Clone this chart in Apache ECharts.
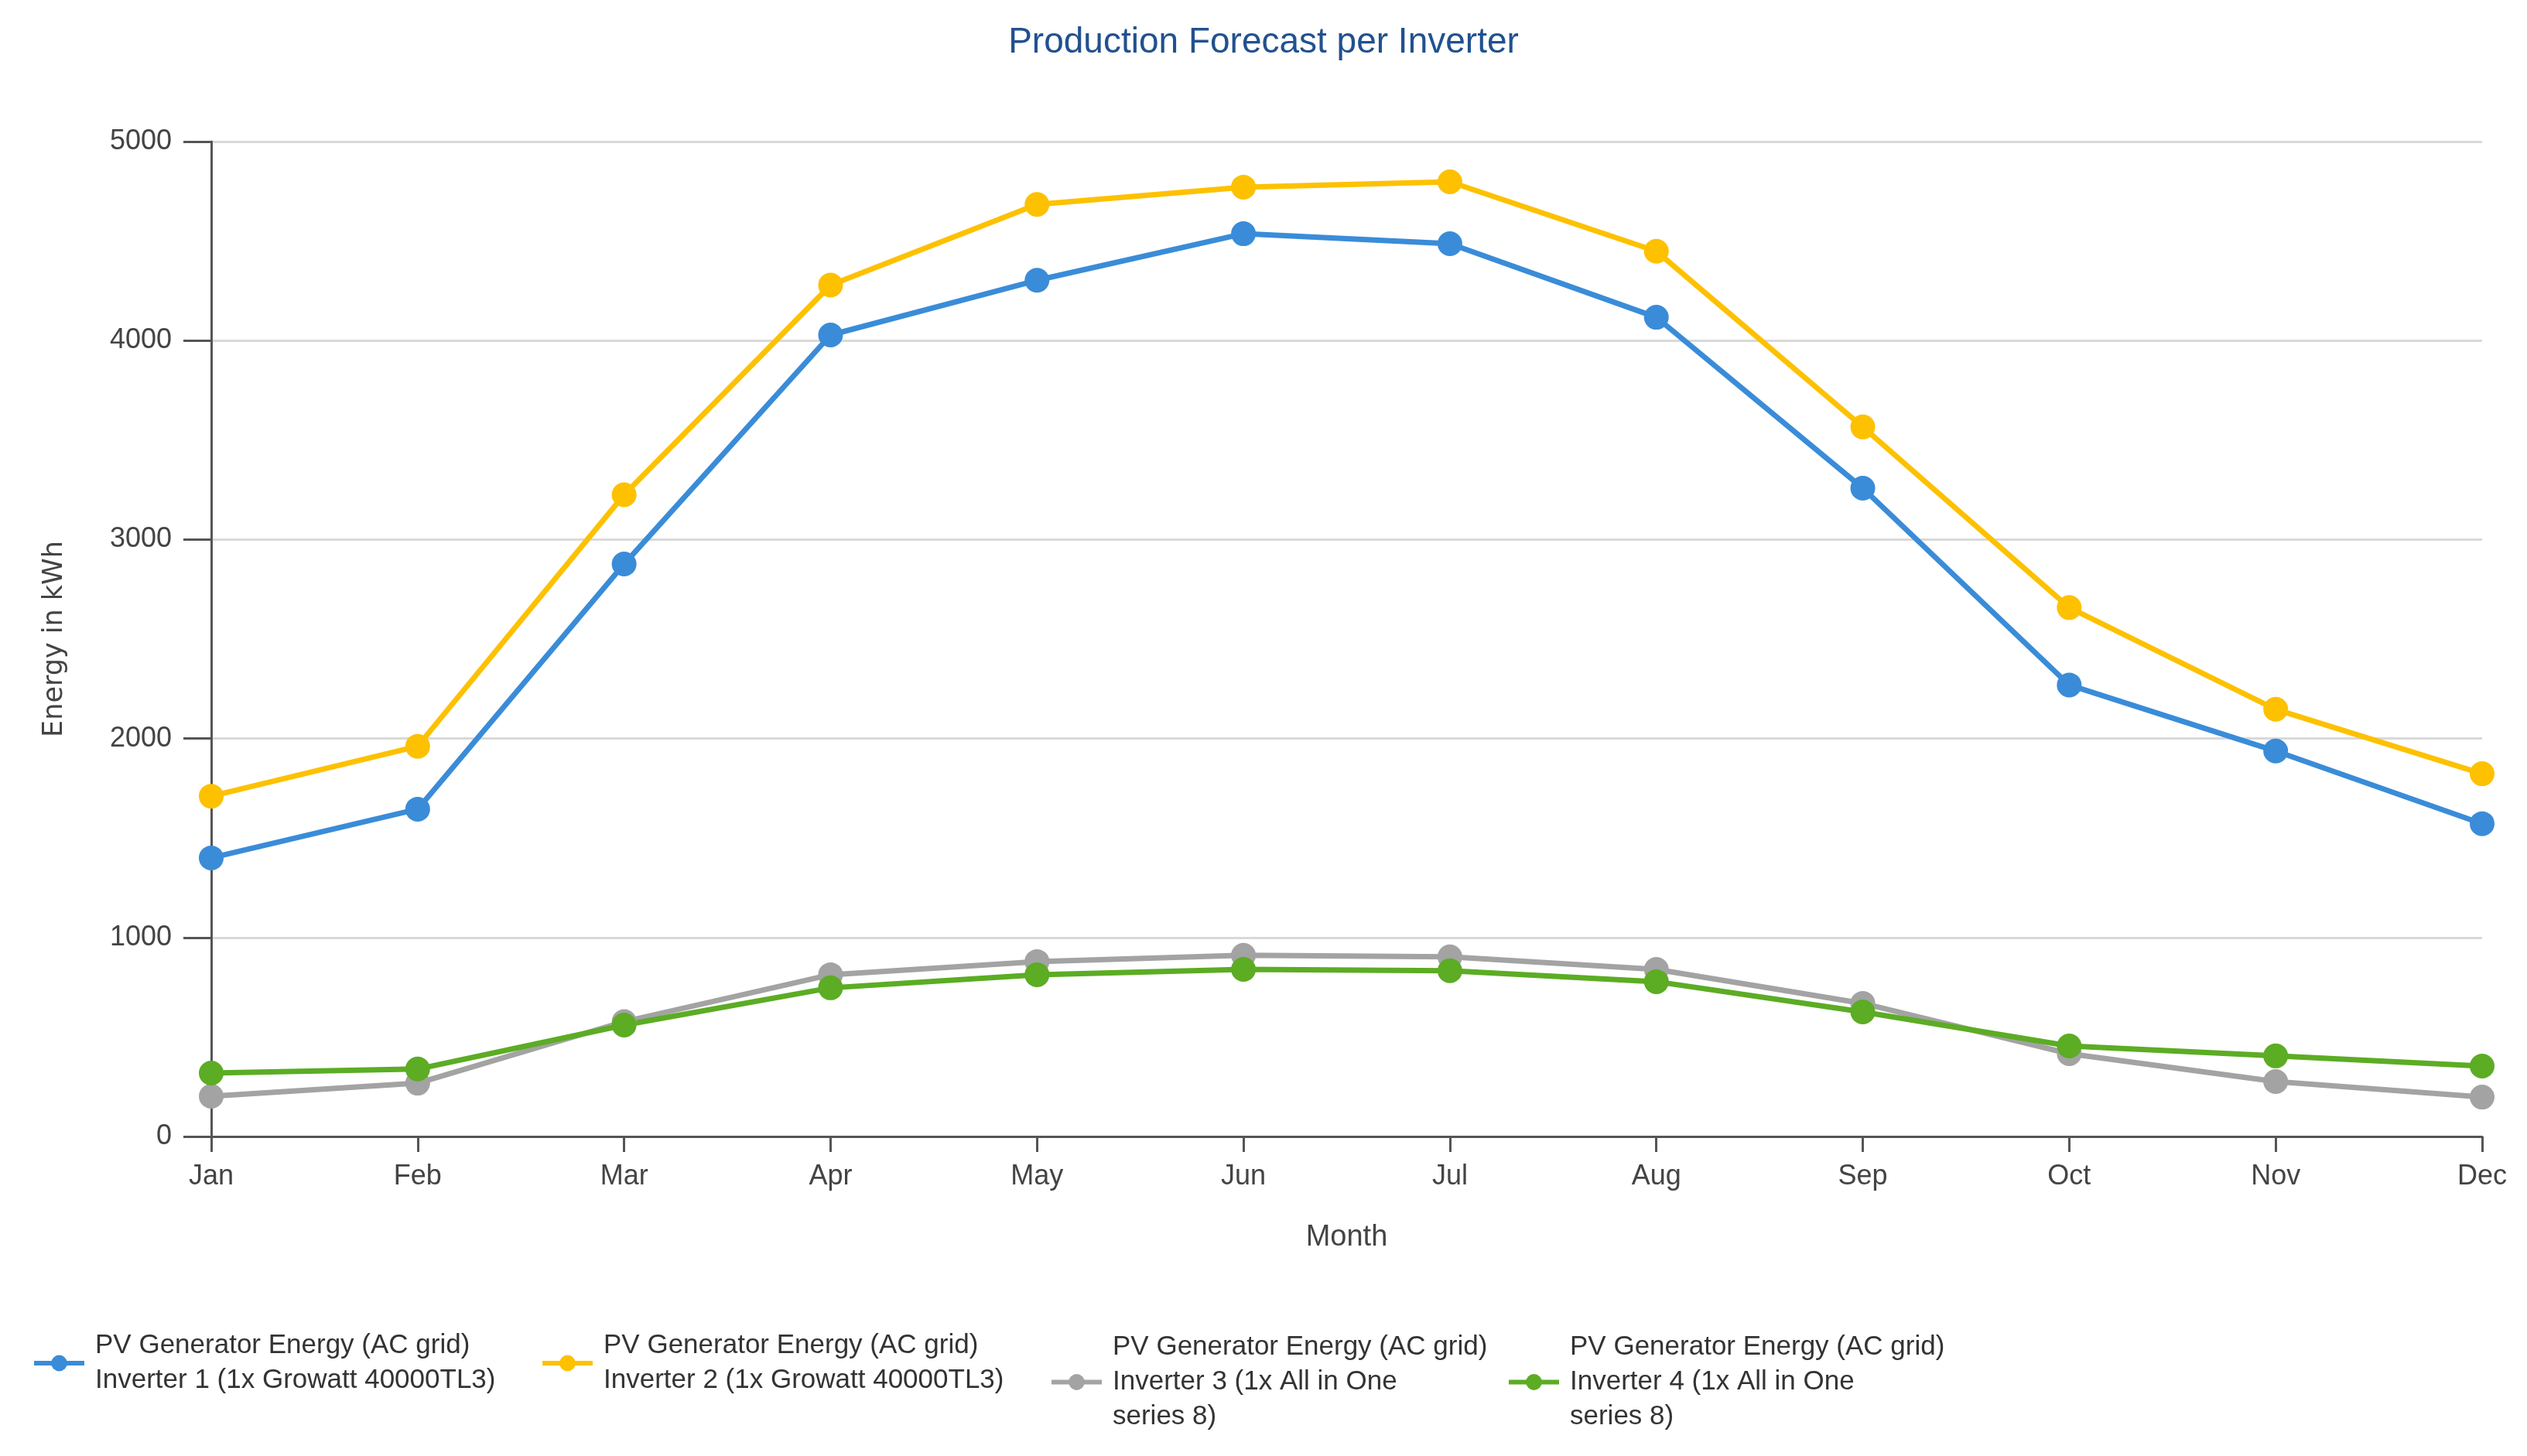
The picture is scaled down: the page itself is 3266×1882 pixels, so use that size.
<!DOCTYPE html>
<html lang="en">
<head>
    <meta charset="UTF-8">
    <title>Production Forecast per Inverter</title>
    <script type="text/javascript" src="https://cdn.jsdelivr.net/npm/echarts@6/dist/echarts.min.js"></script>
    <style>
        html, body { margin: 0; padding: 0; background: #fff; }
        #main { width: 100%; height: 100vh; }
    </style>
</head>
<body>
<div id="main"></div>

<script type="text/javascript">
    // chart data
    var months = ['Jan', 'Feb', 'Mar', 'Apr', 'May', 'Jun', 'Jul', 'Aug', 'Sep', 'Oct', 'Nov', 'Dec'];
    var inverter1 = [1400, 1645, 2877, 4028, 4303, 4537, 4487, 4117, 3258, 2269, 1937, 1572];
    var inverter2 = [1710, 1961, 3225, 4279, 4684, 4771, 4798, 4449, 3566, 2658, 2147, 1823];
    var inverter3 = [202, 268, 577, 813, 879, 911, 903, 840, 669, 416, 276, 198];
    var inverter4 = [319, 339, 560, 747, 813, 840, 833, 778, 626, 455, 405, 354];
    var seriesNames = [
        'PV Generator Energy (AC grid)\nInverter 1 (1x Growatt 40000TL3)',
        'PV Generator Energy (AC grid)\nInverter 2 (1x Growatt 40000TL3)',
        'PV Generator Energy (AC grid)\nInverter 3 (1x All in One\nseries 8)',
        'PV Generator Energy (AC grid)\nInverter 4 (1x All in One\nseries 8)'
    ];
    var colors = ['#3a8cd8', '#fdc100', '#a3a3a3', '#5cac24'];

    var font = 'Liberation Sans, Arial, sans-serif';
    var axisColor = '#555555';
    var textColor = '#444444';

    function makeLegend(idx, left, top) {
        return {
            data: [seriesNames[idx]],
            left: left,
            top: top,
            padding: 0,
            itemWidth: 65,
            itemHeight: 26,
            lineStyle: { width: 6 },
            textStyle: {
                fontFamily: font,
                fontSize: 35,
                lineHeight: 45,
                color: '#333333',
                padding: [0, 0, 0, 9]
            }
        };
    }

    function makeSeries(idx, values) {
        return {
            name: seriesNames[idx],
            type: 'line',
            data: values,
            symbol: 'circle',
            symbolSize: 32,
            color: colors[idx],
            lineStyle: { width: 7, color: colors[idx] },
            itemStyle: { color: colors[idx] }
        };
    }

    var myChart = echarts.init(document.getElementById('main'));

    var option = {
        backgroundColor: '#ffffff',
        animation: false,
        title: {
            text: 'Production Forecast per Inverter',
            left: 'center',
            top: 32,
            padding: 0,
            textStyle: {
                fontFamily: font,
                fontSize: 46,
                fontWeight: 'normal',
                color: '#21518f'
            }
        },
        legend: [
            makeLegend(0, 41, 1717),
            makeLegend(1, 698, 1717),
            makeLegend(2, 1356, 1719),
            makeLegend(3, 1947, 1719)
        ],
        grid: {
            left: 273,
            right: 58,
            top: 183,
            bottom: 413
        },
        xAxis: {
            type: 'category',
            data: months,
            boundaryGap: false,
            name: 'Month',
            nameLocation: 'middle',
            nameGap: 112,
            nameTextStyle: { fontFamily: font, fontSize: 38, color: textColor },
            axisLine: { lineStyle: { color: axisColor, width: 3 } },
            axisTick: { alignWithLabel: true, length: 20, lineStyle: { color: axisColor, width: 3 } },
            axisLabel: { margin: 34, fontFamily: font, fontSize: 36, color: textColor },
            splitLine: { show: false }
        },
        yAxis: {
            type: 'value',
            min: 0,
            max: 5000,
            interval: 1000,
            name: 'Energy in kWh',
            nameLocation: 'middle',
            nameGap: 185,
            nameTextStyle: { fontFamily: 'DejaVu Sans, Verdana, sans-serif', fontSize: 35, color: textColor },
            axisLine: { show: true, lineStyle: { color: axisColor, width: 3 } },
            axisTick: { show: true, length: 36, lineStyle: { color: axisColor, width: 3 } },
            axisLabel: {
                margin: 51,
                fontFamily: font,
                fontSize: 36,
                color: textColor,
                formatter: function (v) { return String(v); }
            },
            splitLine: { show: true, lineStyle: { color: '#d9d9d9', width: 3 } }
        },
        series: [
            makeSeries(0, inverter1),
            makeSeries(1, inverter2),
            makeSeries(2, inverter3),
            makeSeries(3, inverter4)
        ]
    };

    myChart.setOption(option);
</script>
</body>
</html>
